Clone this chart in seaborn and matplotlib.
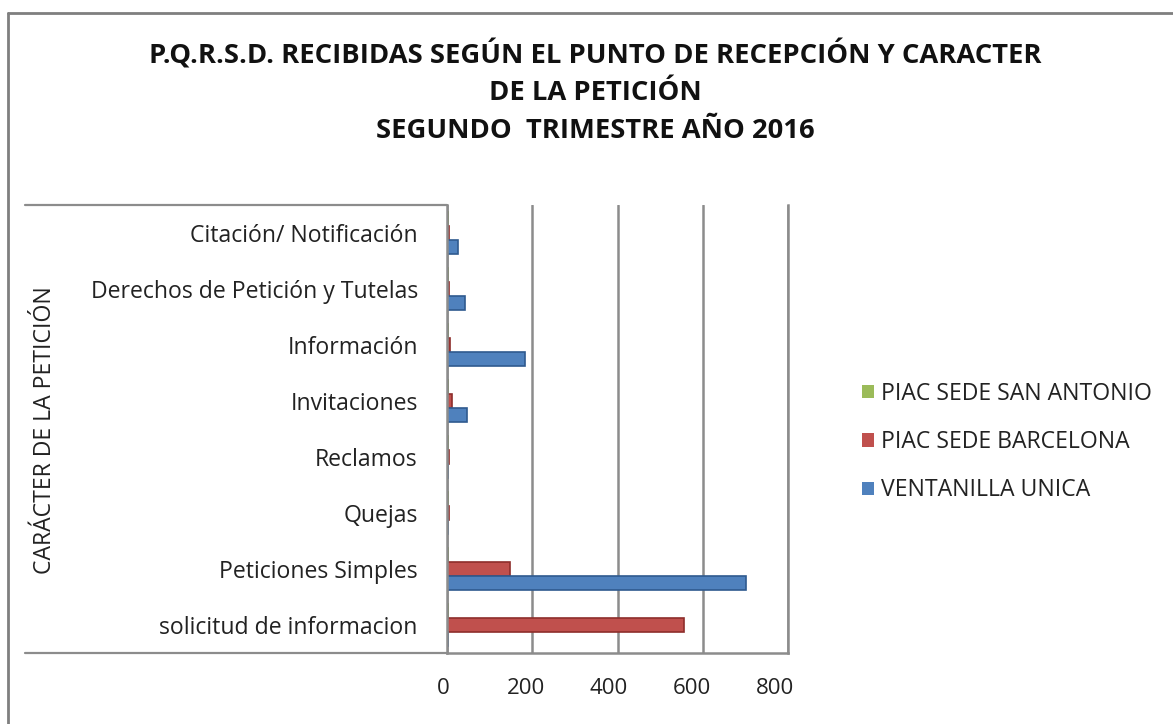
import matplotlib
matplotlib.use("Agg")
import matplotlib.pyplot as plt
import seaborn as sns
import pandas as pd
from matplotlib.lines import Line2D
from matplotlib.patches import Patch
from matplotlib.transforms import ScaledTranslation

categories = ["Citación/ Notificación", "Derechos de Petición y Tutelas", "Información",
              "Invitaciones", "Reclamos", "Quejas", "Peticiones Simples", "solicitud de informacion"]
series_names = ["PIAC SEDE SAN ANTONIO", "PIAC SEDE BARCELONA", "VENTANILLA UNICA"]
san_antonio = [2, 2, 2, 2, 2, 2, 2, 2]
barcelona = [4, 4, 6, 12, 5, 4, 147, 557]
ventanilla = [25, 42, 182, 47, 3, 3, 702, 3]
x_ticks = [0, 200, 400, 600, 800]
title_lines = ["P.Q.R.S.D. RECIBIDAS SEGÚN EL PUNTO DE RECEPCIÓN Y CARACTER",
               "DE LA PETICIÓN",
               "SEGUNDO  TRIMESTRE AÑO 2016"]

colors = {"PIAC SEDE SAN ANTONIO": "#9BBB59",
          "PIAC SEDE BARCELONA": "#C0504D",
          "VENTANILLA UNICA": "#4F81BD"}
edges = {"PIAC SEDE SAN ANTONIO": "#6E8A3A",
         "PIAC SEDE BARCELONA": "#8E2E2B",
         "VENTANILLA UNICA": "#2F5A8F"}

rows = []
for name, vals in zip(series_names, [san_antonio, barcelona, ventanilla]):
    for c, v in zip(categories, vals):
        rows.append({"cat": c, "serie": name, "val": v})
df = pd.DataFrame(rows)

sns.set_theme(style="white")
plt.rcParams['font.family'] = ['Open Sans', 'DejaVu Sans']

W, H = 1173, 724
fig = plt.figure(figsize=(W / 100, H / 100), dpi=100)
ax = fig.add_axes([447 / W, 1 - 653 / H, (788 - 447) / W, (653 - 205) / H])

sns.barplot(data=df, y="cat", x="val", hue="serie", hue_order=series_names,
            order=categories, palette=colors, orient="h", width=0.75,
            ax=ax, legend=False, saturation=1)

for patch, name in zip(ax.patches, [n for n in series_names for _ in categories]):
    patch.set_edgecolor(edges[name])
    patch.set_linewidth(1.2)

ax.set_xlim(0, 800)
ax.set_xticks(x_ticks)
ax.set_xticklabels([str(t) for t in x_ticks], fontsize=16, color="#222222")
ax.tick_params(axis="x", length=0, pad=18)
ax.tick_params(axis="y", length=0, pad=21, labelsize=16.6, labelcolor="#222222")
for lab, t in zip(ax.get_xticklabels(), x_ticks):
    dx = -4 - 9 * t / 800
    lab.set_transform(lab.get_transform() + ScaledTranslation(dx / 100, 0, fig.dpi_scale_trans))
ax.set_xlabel("")
ax.set_ylabel("")
ax.grid(axis="x", color="#8C8C8C", linewidth=1.8)
ax.set_axisbelow(True)
ax.spines["top"].set_visible(False)
for s in ["left", "bottom", "right"]:
    ax.spines[s].set_color("#8C8C8C")
    ax.spines[s].set_linewidth(1.8)

gray = "#8C8C8C"
fig.add_artist(Line2D([25 / W, 447 / W], [1 - 205 / H] * 2, color=gray, lw=1.6))
fig.add_artist(Line2D([25 / W, 447 / W], [1 - 653 / H] * 2, color=gray, lw=1.6))
fig.add_artist(Line2D([8 / W, 8 / W], [0, 1 - 13 / H], color="#7F7F7F", lw=2))
fig.add_artist(Line2D([8 / W, 1], [1 - 13 / H] * 2, color="#7F7F7F", lw=2))

fig.text(45 / W, 1 - 430 / H, "CARÁCTER DE LA PETICIÓN", rotation=90,
         ha="center", va="center", fontsize=16.6, color="#222222")

for line, yp in zip(title_lines, [55, 93, 131]):
    fig.text(595 / W, 1 - yp / H, line, ha="center", va="center",
             fontsize=19.7, fontweight="bold", color="#111111")

handles = [Patch(facecolor=colors[n], edgecolor="none") for n in series_names]
fig.legend(handles, series_names, loc="center left",
           bbox_to_anchor=(841 / W, 1 - 442 / H), frameon=False,
           fontsize=16.6, handlelength=0.52, handleheight=0.52, handletextpad=0.3,
           labelspacing=1.06, labelcolor="#222222")

fig.savefig("out.png", dpi=100, facecolor="white")
